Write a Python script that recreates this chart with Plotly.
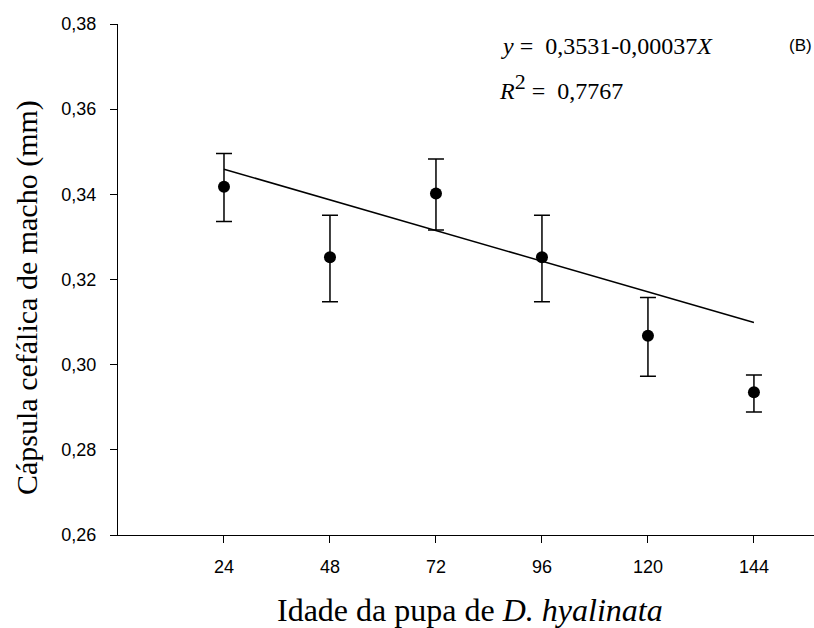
import plotly.graph_objects as go

# Data
ages = [24, 48, 72, 96, 120, 144]
means = [0.3418, 0.3252, 0.3402, 0.3252, 0.3068, 0.2935]
err_plus = [0.0078, 0.0099, 0.0081, 0.0099, 0.0090, 0.0041]
err_minus = [0.0082, 0.0104, 0.0086, 0.0104, 0.0095, 0.0046]

fit_x = [24, 144]
intercept = 0.3531
slope = -0.0003
fit_y = [intercept + slope * x for x in fit_x]

x_ticks = [24, 48, 72, 96, 120, 144]
y_ticks = [0.26, 0.28, 0.30, 0.32, 0.34, 0.36, 0.38]

W, H = 814, 628
L, R, T, B = 118, 0, 24, 93
pw, ph = W - L - R, H - T - B


def px(xp):
    return (xp - L) / pw


def py(yp):
    return (H - B - yp) / ph


fig = go.Figure()
fig.add_trace(go.Scatter(
    x=fit_x, y=fit_y, mode="lines",
    line=dict(color="black", width=1.5), showlegend=False, hoverinfo="skip"))
fig.add_trace(go.Scatter(
    x=ages, y=means, mode="markers",
    marker=dict(color="black", size=12, symbol="circle"),
    error_y=dict(type="data", symmetric=False, array=err_plus, arrayminus=err_minus,
                 color="black", thickness=1.5, width=8),
    showlegend=False))

fig.update_layout(
    width=W, height=H,
    margin=dict(l=L, r=R, t=T, b=B, pad=0),
    paper_bgcolor="white", plot_bgcolor="white",
    separators=", ",
    font=dict(family="Liberation Sans, Arial", color="black"),
    xaxis=dict(range=[0, 157.6], tickvals=x_ticks, ticktext=[str(v) for v in x_ticks],
               showgrid=False, zeroline=False, showline=True, linecolor="black", linewidth=1.3,
               ticks="outside", ticklen=7, tickwidth=1.3, tickcolor="black",
               tickfont=dict(size=18, family="Liberation Sans, Arial"), ticklabelstandoff=8),
    yaxis=dict(range=[0.26, 0.38], tickvals=y_ticks, tickformat=".2f",
               showgrid=False, zeroline=False, showline=True, linecolor="black", linewidth=1.3,
               ticks="outside", ticklen=7, tickwidth=1.3, tickcolor="black",
               tickfont=dict(size=18, family="Liberation Sans, Arial"), ticklabelstandoff=10),
)

serif = "Liberation Serif, Times New Roman"
fig.add_annotation(x=px(470), y=py(610), xref="paper", yref="paper",
                   text="Idade da pupa de <i>D. hyalinata</i>", showarrow=False,
                   font=dict(family=serif, size=32, color="black"),
                   xanchor="center", yanchor="middle")
fig.add_annotation(x=px(27), y=py(298), xref="paper", yref="paper",
                   text="Cápsula cefálica de macho (mm)", showarrow=False, textangle=-90,
                   font=dict(family=serif, size=30, color="black"),
                   xanchor="center", yanchor="middle")
fig.add_annotation(x=px(499), y=py(46), xref="paper", yref="paper",
                   text="<i>y</i> =  0,3531-0,00037<i>X</i>", showarrow=False,
                   font=dict(family=serif, size=24, color="black"),
                   xanchor="left", yanchor="middle")
fig.add_annotation(x=px(497), y=py(86), xref="paper", yref="paper",
                   text="<i>R</i><sup><span style=\"font-size:22px\">2</span></sup> =  0,7767",
                   showarrow=False,
                   font=dict(family=serif, size=24, color="black"),
                   xanchor="left", yanchor="middle")
fig.add_annotation(x=px(787), y=py(45), xref="paper", yref="paper",
                   text="(B)", showarrow=False,
                   font=dict(family="Liberation Sans, Arial", size=17, color="black"),
                   xanchor="left", yanchor="middle")

fig.write_html("out.html")
